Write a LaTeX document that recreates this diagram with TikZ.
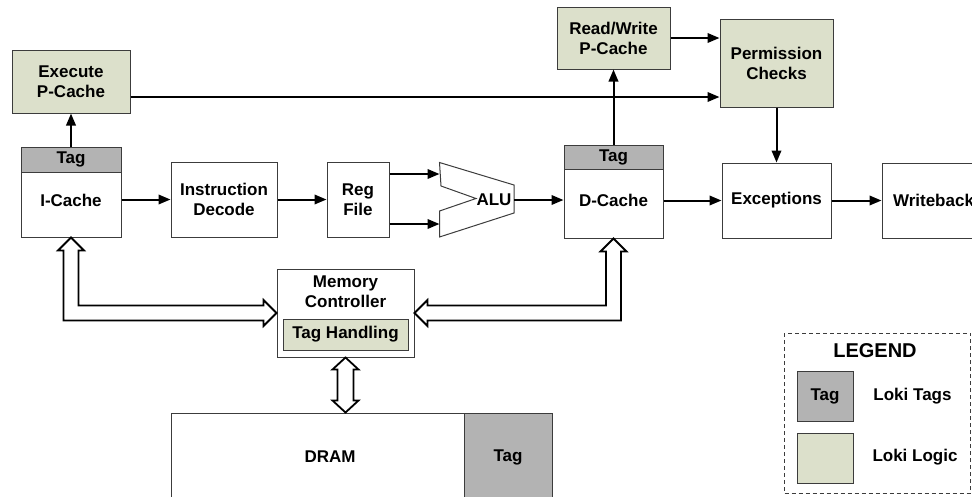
\documentclass[tikz,border=0pt]{standalone}
\usepackage{fontspec}
\setmainfont{Liberation Sans}
\usetikzlibrary{arrows.meta,calc}
\definecolor{lokigreen}{RGB}{220,224,203}
\definecolor{lokigray}{RGB}{179,179,179}
\definecolor{boxline}{RGB}{60,60,60}
\tikzset{
  blk/.style={draw=boxline, line width=1pt, fill=white, inner sep=0pt, align=center,
    font=\fontsize{17}{20}\selectfont\bfseries},
  logic/.style={blk, fill=lokigreen},
  tagband/.style={blk, fill=lokigray},
  txt/.style={inner sep=0pt, align=center, font=\fontsize{17}{20}\selectfont\bfseries},
  conn/.style={line width=2pt, -{Triangle[length=12pt,width=9.5pt]}},
  hollow/.style={draw=black, line width=1.8pt, fill=white, line join=miter},
}
\begin{document}
\begin{tikzpicture}[x=1pt,y=-1pt]
\useasboundingbox (0,0) rectangle (972,496);
\clip (0,0) rectangle (972,496);

% top logic boxes
\node[logic, minimum width=118pt, minimum height=63pt] (exec) at (71,81.5) {Execute\\P-Cache};
\node[logic, minimum width=113pt, minimum height=62pt] (rw) at (613.5,38) {Read/Write\\P-Cache};
\node[logic, minimum width=113pt, minimum height=88pt] (perm) at (776.5,63) {Permission\\Checks};

% pipeline
\node[blk, minimum width=100pt, minimum height=90pt] (icache) at (71,192) {};
\node[tagband, minimum width=100pt, minimum height=25pt] (itag) at (71,159.5) {Tag};
\node[txt] (icachetxt) at (71,200) {I-Cache};

\node[blk, minimum width=106pt, minimum height=75pt] (idec) at (224,199.5) {Instruction\\Decode};
\node[blk, minimum width=62pt, minimum height=75pt] (reg) at (358,199.5) {Reg\\File};

% ALU shape
\draw[draw=boxline, line width=1pt, fill=white]
  (439.5,162.5) -- (514,185) -- (514,213) -- (439.5,237) -- (439.5,211) -- (476,198.5) -- (441,186) -- cycle;
\coordinate (aluin1) at (439.5,174);
\coordinate (aluin2) at (439.5,224);
\coordinate (aluout) at (514,200);
\node[txt] (alu) at (494,200) {ALU};

\node[blk, minimum width=99pt, minimum height=93pt] (dcache) at (613.5,191.5) {};
\node[tagband, minimum width=99pt, minimum height=24pt] (dtag) at (613.5,157) {Tag};
\node[txt] (dcachetxt) at (613.5,200) {D-Cache};

\node[blk, minimum width=109pt, minimum height=75pt] (exc) at (776.5,200.5) {Exceptions};
\node[blk, minimum width=103pt, minimum height=75pt, text width=101pt] (wb) at (933.5,200.5) {Writeback};

% memory controller
\node[blk, minimum width=137pt, minimum height=88pt] (mc) at (345.5,313) {};
\node[txt] (mctxt) at (345.5,292) {Memory\\Controller};
\node[logic, minimum width=125pt, minimum height=31pt] (th) at (345.5,334.5) {Tag Handling};

% DRAM
\node[blk, minimum width=381pt, minimum height=107pt] (dram) at (361.5,466.5) {};
\node[tagband, minimum width=88pt, minimum height=107pt] (dramtag) at (508,466.5) {};
\node[txt] (dramtxt) at (330,457) {DRAM};
\node[txt] (dramtagtxt) at (508,457) {Tag};

% connectors
\coordinate (ly) at (0,97);
\draw[conn] (icache.north) -- (exec.south);
\draw[conn] (exec.east |- ly) -- (perm.west |- ly);
\draw[conn] (rw.east) -- (perm.west |- rw.east);
\draw[conn] (dcache.north) -- (rw.south);
\draw[conn] (perm.south) -- (exc.north);
\draw[conn] (icache.east |- idec.west) -- (idec.west);
\draw[conn] (idec.east) -- (reg.west);
\draw[conn] (reg.east |- aluin1) -- (aluin1);
\draw[conn] (reg.east |- aluin2) -- (aluin2);
\draw[conn] (aluout) -- (dcache.west |- aluout);
\draw[conn] (dcache.east |- exc.west) -- (exc.west);
\draw[conn] (exc.east) -- (wb.west);

% hollow bus arrows
\draw[hollow] let \p1=(icache.south), \p2=(mc.west) in
  (\x1,\y1) -- (\x1+13pt,\y1-13pt) -- (\x1+7.5pt,\y1-13pt) -- (\x1+7.5pt,\y2+7.5pt)
  -- (\x2-13pt,\y2+7.5pt) -- (\x2-13pt,\y2+13pt) -- (\x2,\y2) -- (\x2-13pt,\y2-13pt)
  -- (\x2-13pt,\y2-7.5pt) -- (\x1-7.5pt,\y2-7.5pt) -- (\x1-7.5pt,\y1-13pt) -- (\x1-13pt,\y1-13pt) -- cycle;
\draw[hollow] let \p1=(dcache.south), \p2=(mc.east) in
  (\x1,\y1) -- (\x1+13pt,\y1-13pt) -- (\x1+7.5pt,\y1-13pt) -- (\x1+7.5pt,\y2-7.5pt)
  -- (\x2+13pt,\y2-7.5pt) -- (\x2+13pt,\y2-13pt) -- (\x2,\y2) -- (\x2+13pt,\y2+13pt)
  -- (\x2+13pt,\y2+7.5pt) -- (\x1-7.5pt,\y2+7.5pt) -- (\x1-7.5pt,\y1-13pt) -- (\x1-13pt,\y1-13pt) -- cycle;
\draw[hollow] let \p1=(mc.south), \p2=(dram.north) in
  (\x1,\y1) -- (\x1+13pt,\y1-12pt) -- (\x1+8pt,\y1-12pt) -- (\x1+8pt,\y2+12pt)
  -- (\x1+13pt,\y2+12pt) -- (\x1,\y2) -- (\x1-13pt,\y2+12pt) -- (\x1-8pt,\y2+12pt)
  -- (\x1-8pt,\y1-12pt) -- (\x1-13pt,\y1-12pt) -- cycle;

% legend
\node[draw=boxline, dash pattern=on 4pt off 3pt, line width=1pt, minimum width=186pt, minimum height=160pt, inner sep=0pt] (legend) at (877.5,413) {};
\node[txt, font=\fontsize{20}{24}\selectfont\bfseries] (legtitle) at (875,351) {LEGEND};
\node[tagband, minimum width=56pt, minimum height=50pt] (legtag) at (825,396) {Tag};
\node[logic, minimum width=56pt, minimum height=50pt] (leglogic) at (825,458) {};
\node[txt] (legtagtxt) at (912.5,396) {Loki Tags};
\node[txt] (leglogictxt) at (915,457) {Loki Logic};
\end{tikzpicture}
\end{document}
